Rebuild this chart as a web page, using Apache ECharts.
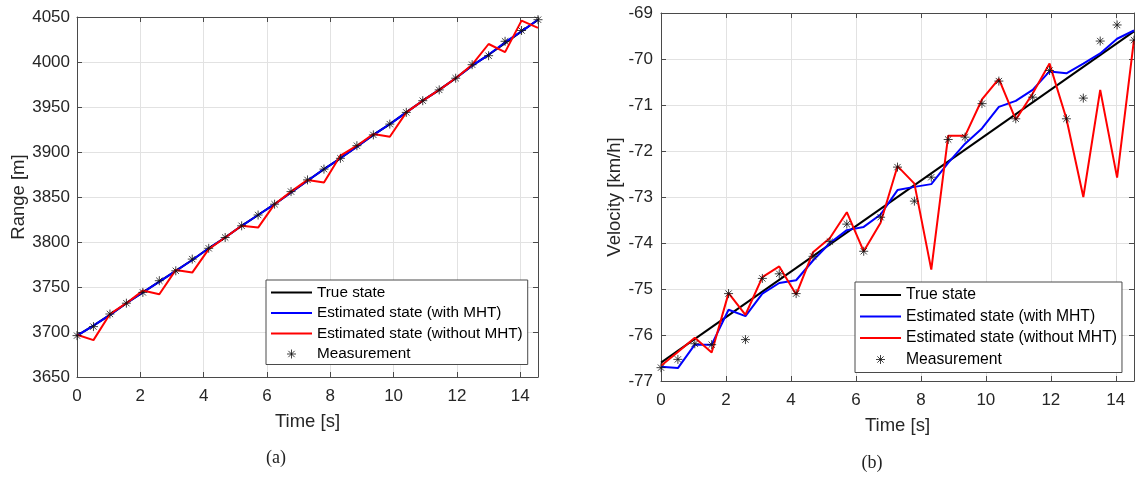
<!DOCTYPE html>
<html>
<head>
<meta charset="utf-8">
<script src="https://cdn.jsdelivr.net/npm/echarts@6/dist/echarts.min.js"></script>
<style>html,body{margin:0;padding:0;background:#fff}#c{width:1135px;height:478px}</style>
</head>
<body>
<div id="c"></div>
<script>
// ---- data ----
var time = [0,0.52,1.04,1.56,2.08,2.6,3.12,3.64,4.16,4.68,5.2,5.72,6.24,6.76,7.28,7.8,8.32,8.84,9.36,9.88,10.4,10.92,11.44,11.96,12.48,13.0,13.52,14.04,14.56];

// (a) range [m] -- true state is hidden under the MHT estimate
var rangeTrue = [3696,3707,3719,3732,3744,3756,3768,3780,3793,3805,3818,3830,3842,3855,3868,3881,3893,3906,3919,3931,3944,3957,3969,3982,3996,4008,4021,4034,4047];
var rangeMHT = [3696,3707,3719,3732,3744,3756,3768,3780,3793,3805,3818,3830,3842,3855,3868,3881,3893,3906,3919,3931,3944,3957,3969,3982,3996,4008,4022,4034,4047];
var rangeNoMHT = [3697,3691,3720,3732,3746,3742,3769,3766,3792,3805,3818,3816,3842,3856,3869,3866,3896,3907,3920,3917,3944,3957,3969,3982,3997,4020,4011,4046,4038];
var rangeMeas = [3696,3706,3720,3732,3744,3757,3768,3781,3793,3805,3818,3830,3842,3856,3869,3881,3893,3907,3919,3931,3944,3957,3969,3982,3997,4007,4023,4035,4047];

// (b) velocity [km/h]
var velTrueT = [0,14.56];
var velTrue = [-76.6,-69.4];
var velMHT = [-76.69,-76.72,-76.21,-76.21,-75.45,-75.59,-75.10,-74.87,-74.81,-74.38,-74.00,-73.72,-73.65,-73.38,-72.85,-72.78,-72.72,-72.26,-71.84,-71.51,-71.04,-70.91,-70.67,-70.27,-70.31,-70.10,-69.88,-69.56,-69.38];
var velNoMHT = [-76.67,-76.37,-76.06,-76.38,-75.09,-75.56,-74.74,-74.51,-75.12,-74.20,-73.89,-73.33,-74.18,-73.56,-72.33,-72.71,-74.58,-71.67,-71.67,-70.88,-70.43,-71.32,-70.75,-70.10,-71.30,-73.00,-70.67,-72.58,-69.58];
var velMeas = [-76.71,-76.53,-76.19,-76.21,-75.10,-76.10,-74.77,-74.67,-75.10,-74.29,-73.97,-73.59,-74.18,-73.44,-72.35,-73.09,-72.57,-71.75,-71.70,-70.97,-70.48,-71.30,-70.83,-70.25,-71.30,-70.85,-69.61,-69.26,-69.59];

var names = ['True state','Estimated state (with MHT)','Estimated state (without MHT)','Measurement'];
var xTicks = {min:0, max:14.56, interval:2};
var rangeTicks = {min:3650, max:4050, interval:50};
var velTicks = {min:-77, max:-69, interval:1};

// ---- chart ----
var FONT = "'Liberation Sans', Arial, sans-serif";
var TXT = '#262626';
var AX = '#4a4a4a';
var GRIDC = '#e2e2e2';
var STAR = 'path://M0,-10L0,10M-10,0L10,0M-7,-7L7,7M-7,7L7,-7';
var LINEICON = 'path://M0,0L40,0L40,2L0,2Z';

function pairs(v, t){ t = t || time; return t.map(function(x,i){ return [x, v[i]]; }); }
function plain(v){ return String(Math.round(v*100)/100); }

function xAx(grid, pos, main){
  return {
    type:'value', gridIndex:grid, position:pos, min:xTicks.min, max:xTicks.max, interval:xTicks.interval,
    name: main ? 'Time [s]' : '', nameLocation:'middle', nameGap: 35,
    nameTextStyle:{fontFamily:FONT, fontSize:18.5, color:TXT},
    axisLine:{show:true, onZero:false, lineStyle:{color:AX, width:1}},
    axisTick:{show:true, inside:true, length:5, lineStyle:{color:AX}},
    axisLabel:{show:main, fontFamily:FONT, fontSize:17, color:TXT, margin:11, showMaxLabel:false, formatter:plain},
    splitLine:{show:main, lineStyle:{color:GRIDC, width:1}}
  };
}
function yAx(grid, pos, main, ticks, name, gap, margin){
  return {
    type:'value', gridIndex:grid, position:pos, min:ticks.min, max:ticks.max, interval:ticks.interval,
    name: main ? name : '', nameLocation:'middle', nameGap: gap,
    nameTextStyle:{fontFamily:FONT, fontSize:18.5, color:TXT},
    axisLine:{show:true, onZero:false, lineStyle:{color:AX, width:1}},
    axisTick:{show:true, inside:true, length:5, lineStyle:{color:AX}},
    axisLabel:{show:main, fontFamily:FONT, fontSize:17, color:TXT, margin:margin, formatter:plain},
    splitLine:{show:main, lineStyle:{color:GRIDC, width:1}}
  };
}
function seriesFor(xi, yi, tru, mht, nomht, meas){
  return [
    {name:names[0], type:'line', xAxisIndex:xi, yAxisIndex:yi, data:tru, symbol:'none', lineStyle:{color:'#000', width:2}, itemStyle:{color:'#000'}, z:2},
    {name:names[1], type:'line', xAxisIndex:xi, yAxisIndex:yi, data:pairs(mht), symbol:'none', lineStyle:{color:'#0000ff', width:2}, itemStyle:{color:'#0000ff'}, z:3},
    {name:names[2], type:'line', xAxisIndex:xi, yAxisIndex:yi, data:pairs(nomht), symbol:'none', lineStyle:{color:'#ff0000', width:2}, itemStyle:{color:'#ff0000'}, z:4},
    {name:names[3], type:'scatter', xAxisIndex:xi, yAxisIndex:yi, data:pairs(meas), symbol:STAR, symbolSize:9,
      itemStyle:{color:'#111', borderColor:'#111', borderWidth:1}, z:5}
  ];
}
function legendAt(left, top, fs, pad){
  return {
    orient:'vertical', left:left, top:top, selectedMode:false,
    itemWidth:41, itemHeight:9, itemGap:5.5, padding:pad,
    borderColor:AX, borderWidth:1, backgroundColor:'#fff',
    textStyle:{fontFamily:FONT, fontSize:fs, color:'#000'},
    data:[
      {name:names[0], icon:LINEICON, itemStyle:{color:'#000'}},
      {name:names[1], icon:LINEICON, itemStyle:{color:'#0000ff'}},
      {name:names[2], icon:LINEICON, itemStyle:{color:'#ff0000'}},
      {name:names[3], icon:STAR, itemStyle:{color:'#111', borderColor:'#111', borderWidth:1}}
    ]
  };
}

var chart = echarts.init(document.getElementById('c'), null, {renderer:'canvas'});
chart.setOption({
  animation:false,
  backgroundColor:'#fff',
  grid:[
    {left:77, top:17, width:461, height:360, containLabel:false},
    {left:661, top:13, width:473, height:368, containLabel:false}
  ],
  xAxis:[ xAx(0,'bottom',true), xAx(0,'top',false), xAx(1,'bottom',true), xAx(1,'top',false) ],
  yAxis:[
    yAx(0,'left',true,rangeTicks,'Range [m]',48,7), yAx(0,'right',false,rangeTicks,'',0,7),
    yAx(1,'left',true,velTicks,'Velocity [km/h]',36,8), yAx(1,'right',false,velTicks,'',0,8)
  ],
  legend:[ legendAt(266,280,15.3,[5,5,3,5]), legendAt(855,282,15.7,[5,5,5,5]) ],
  series: seriesFor(0,0,pairs(rangeTrue),rangeMHT,rangeNoMHT,rangeMeas).concat(seriesFor(2,2,pairs(velTrue,velTrueT),velMHT,velNoMHT,velMeas)),
  graphic:[
    {type:'text', x:276, y:458, style:{text:'(a)', fontFamily:"'Liberation Serif', 'DejaVu Serif', serif", fontSize:18, fill:'#222', textAlign:'center', textVerticalAlign:'middle'}},
    {type:'text', x:872, y:463, style:{text:'(b)', fontFamily:"'Liberation Serif', 'DejaVu Serif', serif", fontSize:18, fill:'#222', textAlign:'center', textVerticalAlign:'middle'}}
  ]
});
</script>
</body>
</html>
